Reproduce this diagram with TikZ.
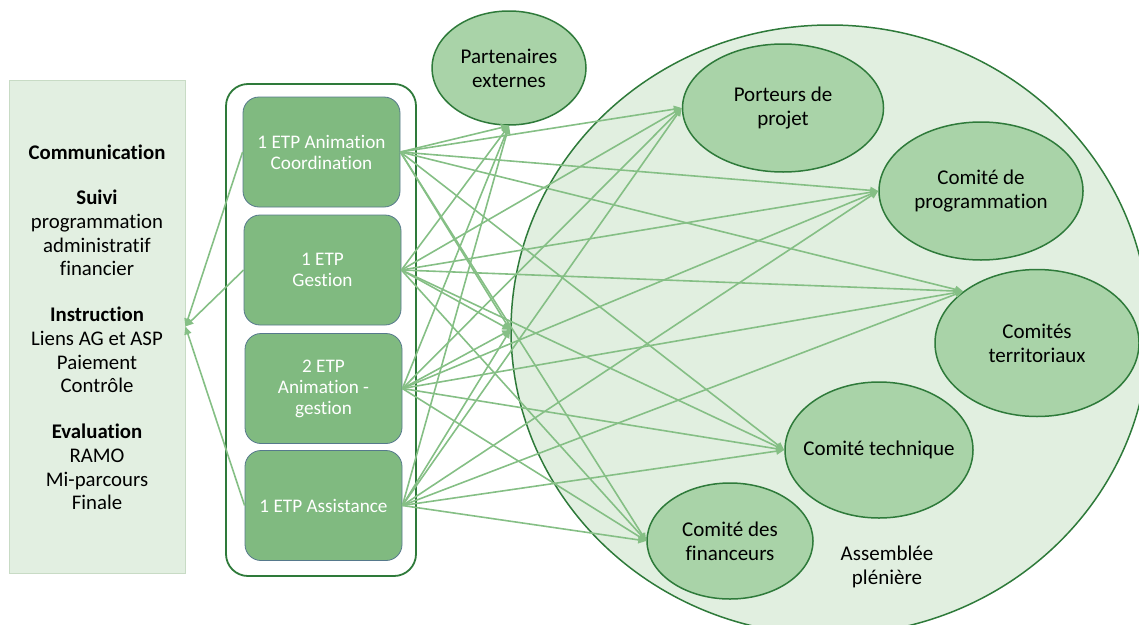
\documentclass[tikz,border=0pt]{standalone}
\usepackage{fontspec}
\setmainfont{Carlito}[Ligatures=NoCommon]
\usetikzlibrary{shapes.geometric,arrows.meta}

\definecolor{panelfill}{HTML}{E2EFE1}
\definecolor{panelline}{HTML}{C8DBC5}
\definecolor{darkgreen}{HTML}{2E7A3A}
\definecolor{boxfill}{HTML}{80BA80}
\definecolor{boxline}{HTML}{56798C}
\definecolor{ellfill}{HTML}{A9D3A8}
\definecolor{bigfill}{HTML}{E1EFE0}
\definecolor{linkcol}{HTML}{85BF85}

\begin{document}
\begin{tikzpicture}[x=1pt,y=-1pt,
  font=\fontsize{21}{24}\selectfont,
  panel/.style={draw=panelline, line width=0.8pt, fill=panelfill,
    minimum width=176pt, minimum height=493pt, inner sep=0},
  paneltext/.style={align=center, inner sep=0, font=\fontsize{20.8}{23.7}\selectfont},
  holder/.style={draw=darkgreen, line width=1.8pt, fill=white,
    rounded corners=22pt, minimum width=190pt, minimum height=492pt, inner sep=0},
  staff/.style={draw=boxline, line width=0.8pt, fill=boxfill, rounded corners=16pt,
    minimum width=157pt, minimum height=110pt, inner sep=0, text=white,
    align=center, font=\fontsize{19.2}{21}\selectfont},
  % committee ellipses keep their own size; the name sits in a centred label
  body/.style={ellipse, draw=darkgreen, line width=1.5pt, fill=ellfill,
    inner sep=0, label={[align=center, inner sep=0]center:#1}},
  assembly/.style={ellipse, draw=darkgreen, line width=1.5pt, fill=bigfill,
    inner sep=0, minimum width=638pt, minimum height=610pt},
  link/.style={draw=linkcol, line width=1.6pt,
    -{Triangle[length=8pt,width=7pt]}}
]
\useasboundingbox (0,0) rectangle (1139,624);

% tasks panel
\node[panel] (panel) at (97,326.5) {};
\node[paneltext] (t1) at (97,152) {\textbf{Communication}};
\node[paneltext] (t2) at (97,233) {\textbf{Suivi}\\programmation\\administratif\\financier};
\node[paneltext] (t3) at (97,350) {\textbf{Instruction}\\Liens AG et ASP\\Paiement\\Contrôle};
\node[paneltext] (t4) at (97,467) {\textbf{Evaluation}\\RAMO\\Mi-parcours\\Finale};

% staff column
\node[holder] (holder) at (321,330) {};
\node[staff] (b1) at (321.5,152) {1 ETP Animation\\Coordination};
\node[staff] (b2) at (322.5,270) {1 ETP\\Gestion};
\node[staff] (b3) at (323.5,388.5) {2 ETP\\Animation -\\gestion};
\node[staff] (b4) at (323.5,505.5) {1 ETP Assistance};

% plenary assembly and its committees
\node[assembly] (plen) at (830,330) {};
\node[align=center, inner sep=0] (plentext) at (887,566.5) {Assemblée\\plénière};

\node[body={Partenaires\\externes}, minimum width=154pt, minimum height=114pt] (partner) at (509,68) {};
\node[body={Porteurs de\\projet}, minimum width=201pt, minimum height=128pt] (porteurs) at (783,108) {};
\node[body={Comité de\\programmation}, minimum width=204pt, minimum height=138pt] (prog) at (981,191) {};
\node[body={Comités\\territoriaux}, minimum width=204pt, minimum height=147pt] (terr) at (1037,343) {};
\node[body={Comité technique}, minimum width=188pt, minimum height=136pt] (tech) at (879,450) {};
\node[body={Comité des\\financeurs}, minimum width=166pt, minimum height=116pt] (fin) at (730,541) {};

% links from the staff to the tasks
\foreach \s in {b1,b2,b4}
  \draw[link] (\s.west) -- (panel.east);

% links from the staff to the partners and committees
\foreach \s in {b1,b2,b3,b4}
  \foreach \t in {partner.south,porteurs.west,prog.west,terr.145,tech.west,fin.west,plen.west}
    \draw[link] (\s.east) -- (\t);
\end{tikzpicture}
\end{document}
